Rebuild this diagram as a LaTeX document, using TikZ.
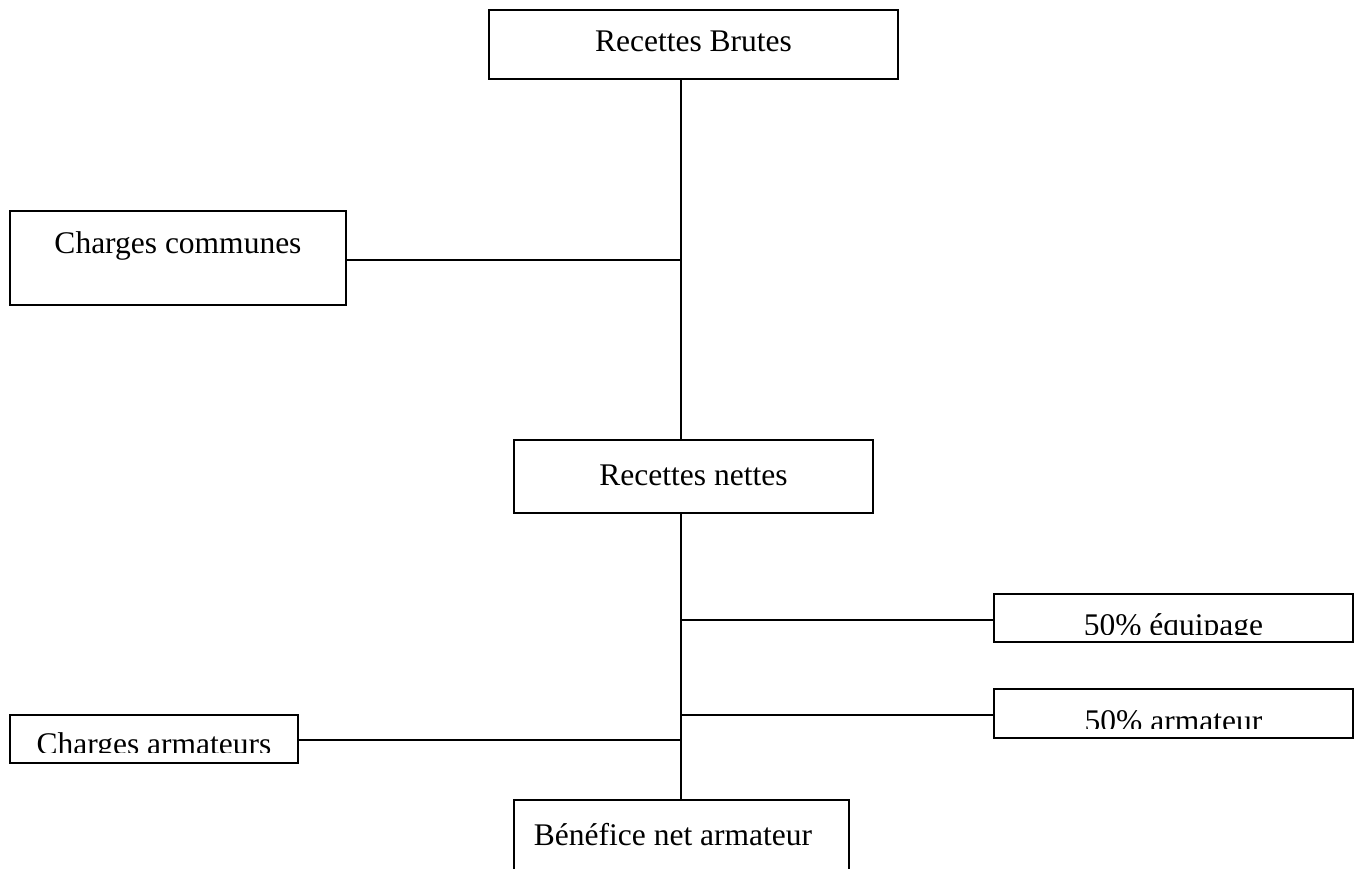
\documentclass[tikz,border=0pt]{standalone}
\usepackage{fontspec}
\setmainfont{Liberation Serif}
\begin{document}
\begin{tikzpicture}[x=1pt,y=-1pt,
  box/.style={draw, line width=1.5pt, rectangle, inner sep=0pt},
  lbl/.style={anchor=base, inner sep=0pt, font=\fontsize{31.5}{36}\selectfont},
  conn/.style={line width=1.5pt}]
\useasboundingbox[fill=white] (0,0) rectangle (1355,869);
\coordinate (spine) at (681,0);
% boxes
\node[box, minimum width=409pt, minimum height=69pt] (rb) at (693.5,44.5) {};
\node[box, minimum width=336pt, minimum height=94pt] (cc) at (178,258) {};
\node[box, minimum width=359pt, minimum height=73pt] (rn) at (693.5,476.5) {};
\node[box, minimum width=359pt, minimum height=48pt] (eq) at (1173.5,618) {};
\node[box, minimum width=359pt, minimum height=49pt] (ar) at (1173.5,713.5) {};
\node[box, minimum width=288pt, minimum height=48pt] (ca) at (154,739) {};
\node[box, minimum width=335pt, minimum height=140pt] (bn) at (681.5,870) {};
% texts
\node[lbl] (trb) at (693.5,52) {Recettes Brutes};
\node[lbl] (tcc) at (178,254) {Charges communes};
\node[lbl] (trn) at (693.5,485) {Recettes nettes};
\node[lbl] (tbn) at (673,845) {Bénéfice net armateur};
\begin{scope}
  \clip (994,590) rectangle (1353,634);
  \node[lbl] (teq) at (1173.5,635) {50\% équipage};
\end{scope}
\begin{scope}
  \clip (994,690) rectangle (1353,728);
  \node[lbl] (tar) at (1173.5,731) {50\% armateur};
\end{scope}
\begin{scope}
  \clip (10,715) rectangle (298,752);
  \node[lbl] (tca) at (154,754) {Charges armateurs};
\end{scope}
% connectors
\draw[conn] (rb.south -| spine) -- (rn.north -| spine);
\draw[conn] (rn.south -| spine) -- (bn.north -| spine);
\draw[conn] ([yshift=-2pt]cc.east) -- ([yshift=-2pt]cc.east -| spine);
\draw[conn] ([yshift=-2pt]eq.west) -- ([yshift=-2pt]eq.west -| spine);
\draw[conn] ([yshift=-1.5pt]ar.west) -- ([yshift=-1.5pt]ar.west -| spine);
\draw[conn] ([yshift=-1pt]ca.east) -- ([yshift=-1pt]ca.east -| spine);
\end{tikzpicture}
\end{document}
